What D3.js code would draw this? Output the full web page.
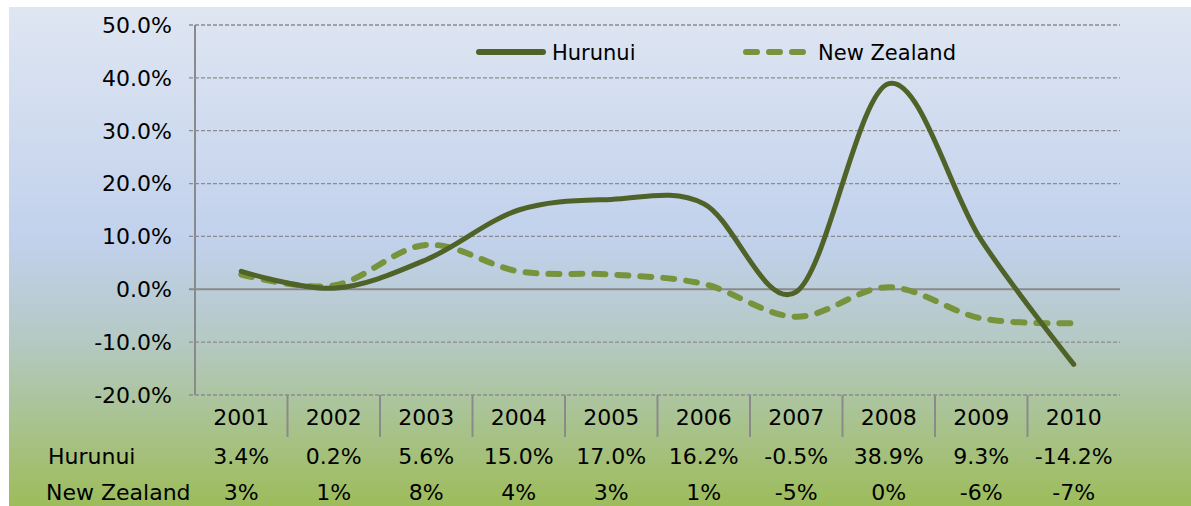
<!DOCTYPE html>
<html>
<head>
<meta charset="utf-8">
<script src="https://cdn.jsdelivr.net/npm/d3@7"></script>
<style>
  body { margin: 0; background: #fff; }
  svg { display: block; font-family: "DejaVu Sans", Verdana, sans-serif; }
  .grid line { stroke: #8c8c8c; stroke-width: 1.3; stroke-dasharray: 4,2; }
  .lbl { font-size: 22px; fill: #000; }
  .leg { font-size: 21px; fill: #000; }
</style>
</head>
<body>
<svg id="chart" width="1191" height="506"></svg>
<script>
var years = ["2001", "2002", "2003", "2004", "2005", "2006", "2007", "2008", "2009", "2010"];
var hurunui = [3.4, 0.2, 5.6, 15.0, 17.0, 16.2, -0.5, 38.9, 9.3, -14.2];
var newZealand = [2.8, 0.7, 8.4, 3.4, 2.8, 1.0, -5.2, 0.4, -5.5, -6.4];
var hurunuiLabels = ["3.4%", "0.2%", "5.6%", "15.0%", "17.0%", "16.2%", "-0.5%", "38.9%", "9.3%", "-14.2%"];
var nzLabels = ["3%", "1%", "8%", "4%", "3%", "1%", "-5%", "0%", "-6%", "-7%"];
var yTicks = [-20, -10, 0, 10, 20, 30, 40, 50];

var margin = {top: 25, left: 195, right: 71, bottom: 111},
	width = 1191 - margin.left - margin.right,
	height = 506 - margin.top - margin.bottom;

var svg = d3.select("#chart");

// background gradient
var defs = svg.append("defs");
var grad = defs.append("linearGradient")
	.attr("id", "bg").attr("x1", 0).attr("y1", 0).attr("x2", 0).attr("y2", 1);
grad.append("stop").attr("offset", "0").attr("stop-color", "#dfe6f2");
grad.append("stop").attr("offset", "0.47").attr("stop-color", "#c1d1ec");
grad.append("stop").attr("offset", "0.66").attr("stop-color", "#b5c9c6");
grad.append("stop").attr("offset", "1").attr("stop-color", "#9dbc5a");
svg.append("rect")
	.attr("x", 9).attr("y", 7)
	.attr("width", 1191 - 9).attr("height", 506 - 7)
	.attr("fill", "url(#bg)");

var g = svg.append("g")
	.attr("transform", "translate(" + margin.left + "," + margin.top + ")");

var xScale = d3.scaleBand().domain(years).range([0, width]);
var yScale = d3.scaleLinear().domain([-20, 50]).range([height, 0]);

// gridlines
g.append("g").attr("class", "grid")
	.selectAll("line")
	.data(yTicks.filter(function(d) { return d !== 0; }))
	.enter().append("line")
	.attr("x1", -6).attr("x2", width)
	.attr("y1", function(d) { return yScale(d); })
	.attr("y2", function(d) { return yScale(d); });

// zero line
g.append("line")
	.attr("x1", -6).attr("x2", width)
	.attr("y1", yScale(0)).attr("y2", yScale(0))
	.attr("stroke", "#8a8a8a").attr("stroke-width", 2);

// y axis
g.append("line")
	.attr("x1", 0).attr("x2", 0)
	.attr("y1", 0).attr("y2", height)
	.attr("stroke", "#8a8a8a").attr("stroke-width", 2);

g.append("g").selectAll("text")
	.data(yTicks)
	.enter().append("text")
	.attr("class", "lbl")
	.attr("x", -23)
	.attr("y", function(d) { return yScale(d); })
	.attr("dy", "0.36em")
	.attr("text-anchor", "end")
	.text(function(d) { return d.toFixed(1) + "%"; });

// category separators (data table)
g.append("g").selectAll("line")
	.data(years.slice(1))
	.enter().append("line")
	.attr("x1", function(d) { return xScale(d); })
	.attr("x2", function(d) { return xScale(d); })
	.attr("y1", height).attr("y2", height + 42)
	.attr("stroke", "#8a8a8a").attr("stroke-width", 2);

var cx = function(d) { return xScale(d) + xScale.bandwidth() / 2; };

g.append("g").selectAll("text")
	.data(years)
	.enter().append("text")
	.attr("class", "lbl")
	.attr("x", cx)
	.attr("y", height + 30)
	.attr("text-anchor", "middle")
	.text(function(d) { return d; });

g.append("g").selectAll("text")
	.data(hurunuiLabels)
	.enter().append("text")
	.attr("class", "lbl")
	.attr("x", function(d, i) { return cx(years[i]); })
	.attr("y", height + 69)
	.attr("text-anchor", "middle")
	.text(function(d) { return d; });

g.append("g").selectAll("text")
	.data(nzLabels)
	.enter().append("text")
	.attr("class", "lbl")
	.attr("x", function(d, i) { return cx(years[i]); })
	.attr("y", height + 105)
	.attr("text-anchor", "middle")
	.text(function(d) { return d; });

svg.append("text").attr("class", "lbl")
	.attr("x", 48).attr("y", margin.top + height + 69)
	.text("Hurunui");
svg.append("text").attr("class", "lbl")
	.attr("x", 46).attr("y", margin.top + height + 105)
	.text("New Zealand");

// lines
var line = d3.line().curve(d3.curveCardinal.tension(0))
	.x(function(d, i) { return cx(years[i]); })
	.y(function(d) { return yScale(d); });

g.append("path")
	.attr("d", line(newZealand))
	.attr("fill", "none")
	.attr("stroke", "#77933c")
	.attr("stroke-width", 6)
	.attr("stroke-linecap", "round")
	.attr("stroke-dasharray", "11,12");

g.append("path")
	.attr("d", line(hurunui))
	.attr("fill", "none")
	.attr("stroke", "#4f6228")
	.attr("stroke-width", 5)
	.attr("stroke-linecap", "round");

// legend
var legend = svg.append("g");
legend.append("line")
	.attr("x1", 479).attr("x2", 543).attr("y1", 52).attr("y2", 52)
	.attr("stroke", "#4f6228").attr("stroke-width", 6).attr("stroke-linecap", "round");
legend.append("text").attr("class", "leg")
	.attr("x", 552).attr("y", 52).attr("dy", "0.36em")
	.text("Hurunui");
legend.append("line")
	.attr("x1", 746).attr("x2", 806).attr("y1", 52).attr("y2", 52)
	.attr("stroke", "#77933c").attr("stroke-width", 6).attr("stroke-linecap", "round")
	.attr("stroke-dasharray", "11,12");
legend.append("text").attr("class", "leg")
	.attr("x", 818).attr("y", 52).attr("dy", "0.36em")
	.text("New Zealand");
</script>
</body>
</html>
